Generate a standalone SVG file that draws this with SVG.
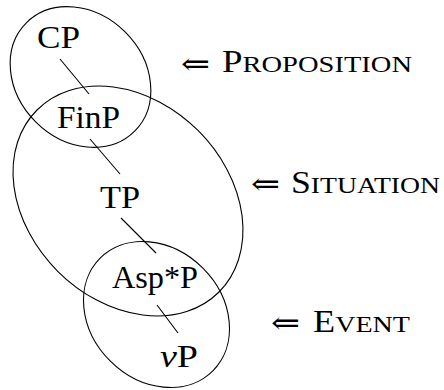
<svg xmlns="http://www.w3.org/2000/svg" width="444" height="390" viewBox="0 0 444 390">
<style>
.ell{fill:none;stroke:#000;stroke-width:1.1}
.edge{stroke:#000;stroke-width:1.1;fill:none}
.node{font-family:"Liberation Serif","DejaVu Serif",serif;font-size:31px;fill:#000;text-anchor:middle}
.lab{font-family:"Liberation Serif","DejaVu Serif",serif;font-size:31px;fill:#000}
.sc{font-size:24px}
.arr{font-family:"DejaVu Serif","DejaVu Sans",serif;font-size:30px;fill:#000}
</style>
<rect width="444" height="390" fill="#fff"/>
<g id="groupings">
<ellipse id="proposition-ellipse" class="ell" cx="80.5" cy="77" rx="76.6" ry="63.4" transform="rotate(45 80.5 77)"/>
<ellipse id="situation-ellipse" class="ell" cx="128" cy="201" rx="128.7" ry="99.4" transform="rotate(45 128 201)"/>
<ellipse id="event-ellipse" class="ell" cx="156.5" cy="314.5" rx="79.7" ry="65.6" transform="rotate(45 156.5 314.5)"/>
</g>
<g id="connectors">
<line class="edge" x1="60" y1="59" x2="89" y2="94"/>
<line class="edge" x1="90" y1="139" x2="120" y2="174"/>
<line class="edge" x1="121" y1="218" x2="156" y2="253"/>
<line class="edge" x1="157" y1="305" x2="178" y2="333"/>
</g>
<g id="CP"><text class="node" x="58.5" y="48" textLength="43" lengthAdjust="spacingAndGlyphs">CP</text></g>
<g id="FinP"><text class="node" x="88.5" y="128" textLength="63" lengthAdjust="spacingAndGlyphs">FinP</text></g>
<g id="TP"><text class="node" x="120" y="208" textLength="40" lengthAdjust="spacingAndGlyphs">TP</text></g>
<g id="AspP"><text class="node" x="155" y="288" textLength="86" lengthAdjust="spacingAndGlyphs">Asp*P</text></g>
<g id="vP"><text class="node" x="179" y="367" textLength="38" lengthAdjust="spacingAndGlyphs"><tspan font-style="italic">v</tspan>P</text></g>
<g id="label-proposition">
<text class="arr" x="181" y="74" textLength="29" lengthAdjust="spacingAndGlyphs">⇐</text>
<text class="lab" x="222" y="72" textLength="190" lengthAdjust="spacingAndGlyphs">P<tspan class="sc">ROPOSITION</tspan></text>
</g>
<g id="label-situation">
<text class="arr" x="251" y="194" textLength="29" lengthAdjust="spacingAndGlyphs">⇐</text>
<text class="lab" x="291" y="193" textLength="149" lengthAdjust="spacingAndGlyphs">S<tspan class="sc">ITUATION</tspan></text>
</g>
<g id="label-event">
<text class="arr" x="271" y="333" textLength="29" lengthAdjust="spacingAndGlyphs">⇐</text>
<text class="lab" x="313" y="332" textLength="97" lengthAdjust="spacingAndGlyphs">E<tspan class="sc">VENT</tspan></text>
</g>
</svg>
